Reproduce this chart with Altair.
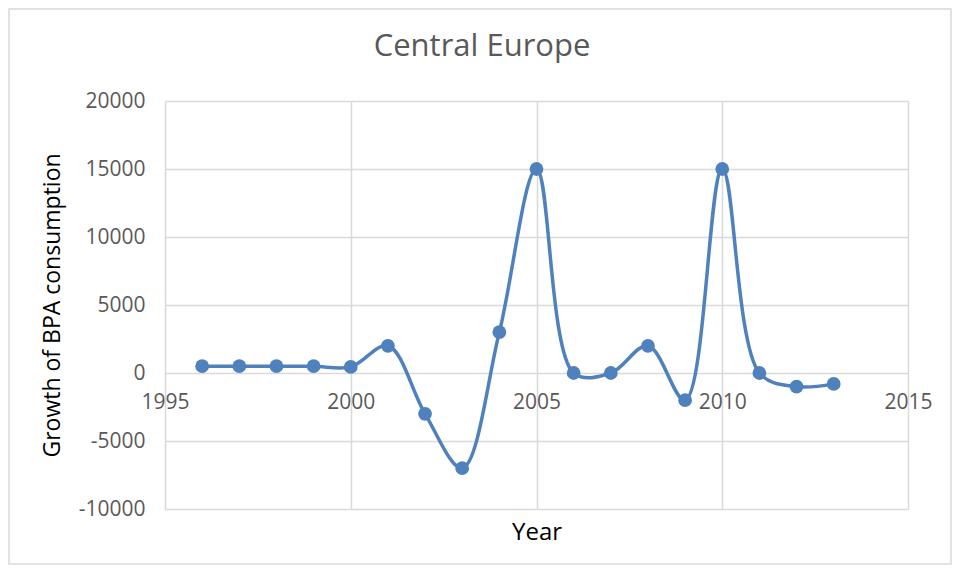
import altair as alt
import pandas as pd

years = [1996, 1997, 1998, 1999, 2000, 2001, 2002, 2003, 2004, 2005,
         2006, 2007, 2008, 2009, 2010, 2011, 2012, 2013]
growth = [500, 500, 500, 500, 450, 2000, -3000, -7000, 3000, 15000,
          0, 0, 2000, -2000, 15000, 0, -1000, -800]
x_ticks = [1995, 2000, 2005, 2010, 2015]
y_ticks = [-10000, -5000, 0, 5000, 10000, 15000, 20000]
chart_title = "Central Europe"
x_title = "Year"
y_title = "Growth of BPA consumption"

df = pd.DataFrame({"Year": years, "Growth": growth})
one = pd.DataFrame({"t": [chart_title]})

FONT = "Open Sans"
BLUE = "#4F81BD"
GRID = "#D9D9D9"
LABEL = "#595959"
W, H = 743, 408

x = alt.X(
    "Year:Q",
    scale=alt.Scale(domain=[1995, 2015], nice=False, zero=False),
    axis=alt.Axis(
        values=x_ticks, labelExpr="'' + datum.value", title=x_title, offset=-136,
        grid=True, gridColor=GRID, gridWidth=1.5, domain=False, ticks=False,
        labelFlush=False, labelOverlap=False,
        labelPadding=18, labelFontSize=21, labelColor=LABEL, labelFont=FONT,
        titleFont=FONT, titleFontSize=24, titleColor="#000000",
        titleFontWeight="normal", titleBaseline="middle", titleY=159,
    ),
)
y = alt.Y(
    "Growth:Q",
    scale=alt.Scale(domain=[-10000, 20000], nice=False, zero=False),
    axis=alt.Axis(
        values=y_ticks, labelExpr="'' + datum.value", title=y_title,
        grid=True, gridColor=GRID, gridWidth=1.5, domain=False, ticks=False,
        labelFlush=False, labelOverlap=False,
        labelPadding=20, labelFontSize=21, labelColor=LABEL, labelFont=FONT,
        titleFont=FONT, titleFontSize=23, titleColor="#000000",
        titleFontWeight="normal", titleBaseline="middle", titleX=-113, titleY=H / 2,
    ),
)

base = alt.Chart(df)
line = base.mark_line(interpolate="catmull-rom", color=BLUE, strokeWidth=3.5).encode(x=x, y=y)
pts = base.mark_circle(color=BLUE, size=190, opacity=1).encode(x=x, y=y)

border = alt.Chart(one).mark_rect(fill=None, stroke=GRID, strokeWidth=1.5).encode(
    x=alt.value(-156), x2=alt.value(786), y=alt.value(-92), y2=alt.value(463)
)
title = alt.Chart(one).mark_text(
    font=FONT, fontSize=31, color=LABEL, baseline="middle", align="center"
).encode(text="t:N", x=alt.value(317), y=alt.value(-54))

chart = alt.layer(border, line, pts, title).properties(
    width=W, height=H,
    autosize=alt.AutoSizeParams(type="none"),
    padding={"left": 157, "top": 93, "right": 44, "bottom": 57},
    background="white",
).configure_view(stroke=None)

chart.save("out.html", embed_options={"renderer": "svg", "actions": False})
